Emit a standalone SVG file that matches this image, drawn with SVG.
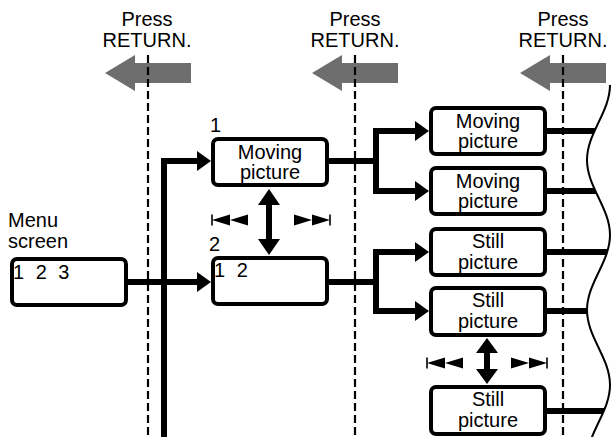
<svg xmlns="http://www.w3.org/2000/svg" xmlns:xlink="http://www.w3.org/1999/xlink" width="611" height="437" viewBox="0 0 611 437">
<style>
text{font-family:"Liberation Sans",Arial,sans-serif;font-size:20px;fill:#000}
.c{text-anchor:middle}
.box{fill:#fff;stroke:#000;stroke-width:4}
.ln{fill:none;stroke:#000;stroke-width:6}
.dash{fill:none;stroke:#000;stroke-width:2.2;stroke-dasharray:8 4}
.ah{fill:#000}
.gray{fill:#6e6e6e}
</style>
<defs>
<polygon id="garrow" points="105,73 135,55 135,63 191,63 191,83 135,83 135,91"/>
<g id="prev"><rect x="-0.8" y="-5.5" width="1.6" height="11"/><polygon points="0,0 18,-5.5 18,5.5"/><polygon points="18,0 36,-5.5 36,5.5"/></g>
<g id="next"><rect x="-0.8" y="-5.5" width="1.6" height="11"/><polygon points="0,0 -18,-5.5 -18,5.5"/><polygon points="-18,0 -36,-5.5 -36,5.5"/></g>
<polygon id="arr" points="0,0 -14,-10 -14,10"/>
</defs>

<g id="return-arrows" class="gray">
<use xlink:href="#garrow"/>
<use xlink:href="#garrow" transform="translate(207,0)"/>
<use xlink:href="#garrow" transform="translate(415,0)"/>
</g>
<g id="return-labels">
<text class="c" x="147" y="26">Press</text><text class="c" x="147" y="47">RETURN.</text>
<text class="c" x="355" y="26">Press</text><text class="c" x="355" y="47">RETURN.</text>
<text class="c" x="563" y="26">Press</text><text class="c" x="563" y="47">RETURN.</text>
</g>
<g id="dashed-lines" class="dash">
<line x1="148" y1="55" x2="148" y2="437"/>
<line x1="355" y1="55" x2="355" y2="437"/>
<line x1="563" y1="55" x2="563" y2="437"/>
</g>

<g id="connectors">
<path class="ln" d="M128,282 H198 M164,437 V161 H198"/>
<use class="ah" xlink:href="#arr" transform="translate(211,282)"/>
<use class="ah" xlink:href="#arr" transform="translate(211,161)"/>
<path class="ln" d="M329,161 H376 M415,131 H376 V191 H415"/>
<use class="ah" xlink:href="#arr" transform="translate(429,131)"/>
<use class="ah" xlink:href="#arr" transform="translate(429,191)"/>
<path class="ln" d="M329,282 H376 M415,252 H376 V311 H415"/>
<use class="ah" xlink:href="#arr" transform="translate(429,252)"/>
<use class="ah" xlink:href="#arr" transform="translate(429,311)"/>
<path class="ln" d="M547,131 H611 M547,191 H611 M547,252 H611 M547,311 H611 M547,411 H611"/>
<path class="ln" d="M269,204 V240"/>
<polygon class="ah" points="269,189 280,205 258,205"/>
<polygon class="ah" points="269,255 280,239 258,239"/>
<path class="ln" d="M487,350 V372"/>
<polygon class="ah" points="487,338 498,353 476,353"/>
<polygon class="ah" points="487,384 498,369 476,369"/>
</g>
<g id="skip-icons" class="ah">
<use xlink:href="#prev" transform="translate(212,220)"/>
<use xlink:href="#next" transform="translate(330,220)"/>
<use xlink:href="#prev" transform="translate(427,363)"/>
<use xlink:href="#next" transform="translate(547,363)"/>
</g>

<g id="menu-screen">
<text x="8" y="227">Menu</text><text x="8" y="248">screen</text>
<rect class="box" x="12" y="259" width="114" height="46" rx="5"/>
<text x="13" y="279" word-spacing="6">1 2 3</text>
</g>
<g id="moving-1">
<text x="210" y="132">1</text>
<rect class="box" x="213" y="139" width="114" height="46" rx="5"/>
<text class="c" x="270" y="159">Moving</text><text class="c" x="270" y="179">picture</text>
</g>
<g id="menu-2">
<text x="209" y="251">2</text>
<rect class="box" x="213" y="258" width="114" height="46" rx="5"/>
<text x="214" y="277" word-spacing="6">1 2</text>
</g>
<g id="moving-a">
<rect class="box" x="431" y="108" width="114" height="46" rx="5"/>
<text class="c" x="488" y="128">Moving</text><text class="c" x="488" y="148">picture</text>
</g>
<g id="moving-b">
<rect class="box" x="431" y="168" width="114" height="46" rx="5"/>
<text class="c" x="488" y="188">Moving</text><text class="c" x="488" y="208">picture</text>
</g>
<g id="still-a">
<rect class="box" x="431" y="229" width="114" height="46" rx="5"/>
<text class="c" x="488" y="248">Still</text><text class="c" x="488" y="269">picture</text>
</g>
<g id="still-b">
<rect class="box" x="431" y="288" width="114" height="47" rx="5"/>
<text class="c" x="488" y="307">Still</text><text class="c" x="488" y="328">picture</text>
</g>
<g id="still-c">
<rect class="box" x="431" y="387" width="114" height="47" rx="5"/>
<text class="c" x="488" y="406">Still</text><text class="c" x="488" y="427">picture</text>
</g>

<g id="cut-edge">
<path fill="#fff" d="M610,85 C610,112 587,133 587,160 S610,208 610,235 S587,283 587,310 S610,358 610,385 S587,433 587,460 L611,460 L611,85 Z"/>
<path fill="none" stroke="#000" stroke-width="2" d="M610,85 C610,112 587,133 587,160 S610,208 610,235 S587,283 587,310 S610,358 610,385 S587,433 587,460"/>
</g>
</svg>
